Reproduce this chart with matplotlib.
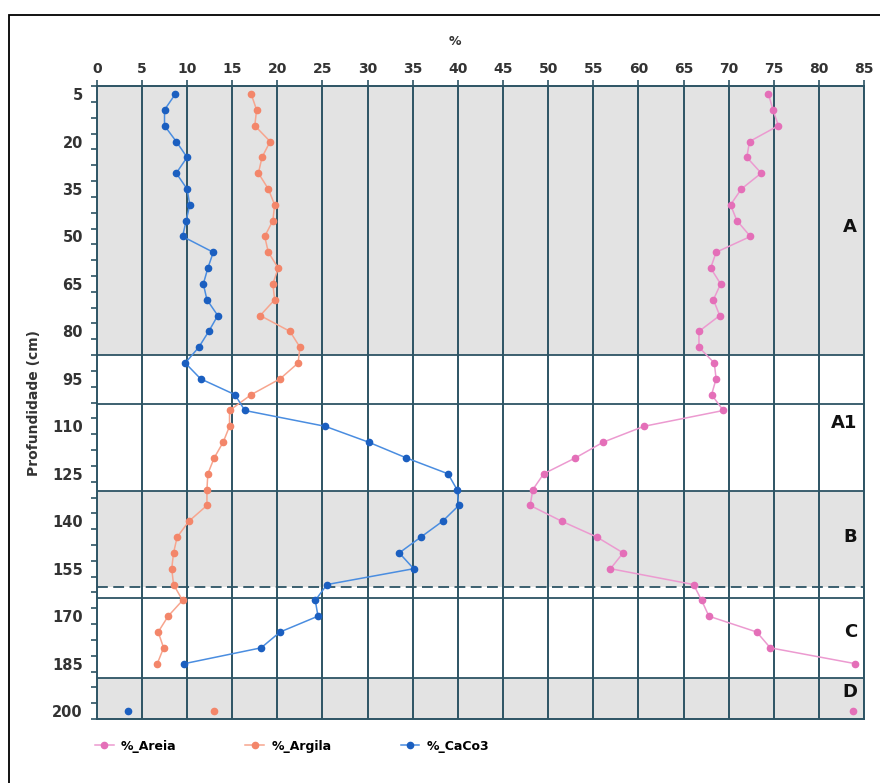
import numpy as np
import matplotlib
matplotlib.use('Agg')
import matplotlib.pyplot as plt
from matplotlib.patches import Rectangle

# profundidade (cm) - uma amostra a cada 5 cm
profundidade = list(range(5, 205, 5))

areia = [74.4, 74.9, 75.5, 72.3, 72.0, 73.6, 71.4, 70.2, 70.9, 72.4,
         68.6, 68.0, 69.1, 68.3, 69.0, 66.7, 66.7, 68.4, 68.6, 68.1,
         69.4, 60.6, 56.1, 53.0, 49.5, 48.3, 48.0, 51.5, 55.4, 58.3,
         56.9, 66.1, 67.0, 67.8, 73.1, 74.6, 84.0, np.nan, np.nan, 83.8]

argila = [17.1, 17.7, 17.5, 19.2, 18.3, 17.9, 19.0, 19.7, 19.5, 18.6,
          19.0, 20.1, 19.5, 19.7, 18.1, 21.4, 22.5, 22.3, 20.3, 17.1,
          14.7, 14.7, 14.0, 13.0, 12.3, 12.2, 12.2, 10.2, 8.9, 8.5,
          8.3, 8.5, 9.5, 7.9, 6.8, 7.4, 6.7, np.nan, np.nan, 13.0]

caco3 = [8.7, 7.5, 7.5, 8.8, 10.0, 8.8, 10.0, 10.3, 9.9, 9.5,
         12.9, 12.3, 11.8, 12.2, 13.4, 12.4, 11.3, 9.8, 11.5, 15.3,
         16.4, 25.3, 30.1, 34.3, 38.9, 39.9, 40.1, 38.3, 35.9, 33.5,
         35.1, 25.5, 24.2, 24.5, 20.3, 18.2, 9.7, np.nan, np.nan, 3.5]

# horizontes
horizontes = ['A', 'A1', 'B', 'C', 'D']
pos_horizonte = [47, 109, 145, 175, 194]
limites = [87.6, 103.1, 130.3, 164.2, 189.5]
faixas_cinza = [(2.5, 87.6), (130.3, 160.7), (189.5, 202.5)]

grid_cor = '#2d5464'
txt_cor = '#333333'

fig = plt.figure(figsize=(8.8, 7.83), dpi=100)
ax = fig.add_axes([0.110, 0.0817, 0.872, 0.8083])

for a, b in faixas_cinza:
    ax.axhspan(a, b, color='#e3e3e3', zorder=0, lw=0)

for x in range(5, 90, 5):
    ax.axvline(x, color=grid_cor, lw=1.4, zorder=1)
for y in limites:
    ax.axhline(y, color=grid_cor, lw=1.3, zorder=1)
ax.axhline(160.7, color=grid_cor, lw=1.3, ls=(0, (6, 3)), zorder=1)

ax.plot(areia, profundidade, color='#ec9ad0', lw=1.1, marker='o', ms=4.5,
        mfc='#e46fb8', mec='#e46fb8', label='%_Areia', zorder=3)
ax.plot(argila, profundidade, color='#f7a58e', lw=1.1, marker='o', ms=4.5,
        mfc='#f3866a', mec='#f3866a', label='%_Argila', zorder=3)
ax.plot(caco3, profundidade, color='#4a8de0', lw=1.1, marker='o', ms=4.5,
        mfc='#1b5fc0', mec='#1b5fc0', label='%_CaCo3', zorder=4)

for h, p in zip(horizontes, pos_horizonte):
    ax.text(84.2, p, h, ha='right', va='center', fontsize=13,
            fontweight='bold', color='#111111', zorder=5)

ax.set_xlim(0, 85)
ax.set_ylim(202.5, 2.5)
ax.xaxis.tick_top()
ax.xaxis.set_label_position('top')
ax.set_xticks(range(0, 90, 5))
ax.set_yticks(range(5, 205, 15))
ax.set_yticks(np.arange(2.5, 205, 5), minor=True)
ax.tick_params(axis='x', which='major', length=4, width=1.2, color=grid_cor,
               labelsize=10, labelcolor=txt_cor, pad=3)
ax.tick_params(axis='y', which='major', length=0, labelsize=10.5,
               labelcolor=txt_cor, pad=10)
ax.tick_params(axis='y', which='minor', length=4, width=1.2, color=grid_cor)
for lab in ax.get_xticklabels() + ax.get_yticklabels():
    lab.set_fontweight('bold')

ax.set_xlabel('%', fontsize=9, fontweight='bold', color=txt_cor, labelpad=2)
ax.xaxis.set_label_coords(0.466, 1.065)
ax.set_ylabel('Profundidade (cm)', fontsize=10, fontweight='bold',
              color=txt_cor, labelpad=8)

for s in ax.spines.values():
    s.set_color(grid_cor)
    s.set_linewidth(1.4)

fig.legend(loc='center left', bbox_to_anchor=(0.095, 0.047), ncol=3,
           frameon=False, handlelength=1.5, handletextpad=0.6,
           columnspacing=5.5, prop={'weight': 'bold', 'size': 9})

# moldura externa
fig.patches.append(Rectangle((9 / 880, -0.01), 1.0, 1 - 15 / 783 + 0.01,
                             transform=fig.transFigure, fill=False,
                             edgecolor='black', lw=1.3))

fig.savefig('out.png', dpi=100)
